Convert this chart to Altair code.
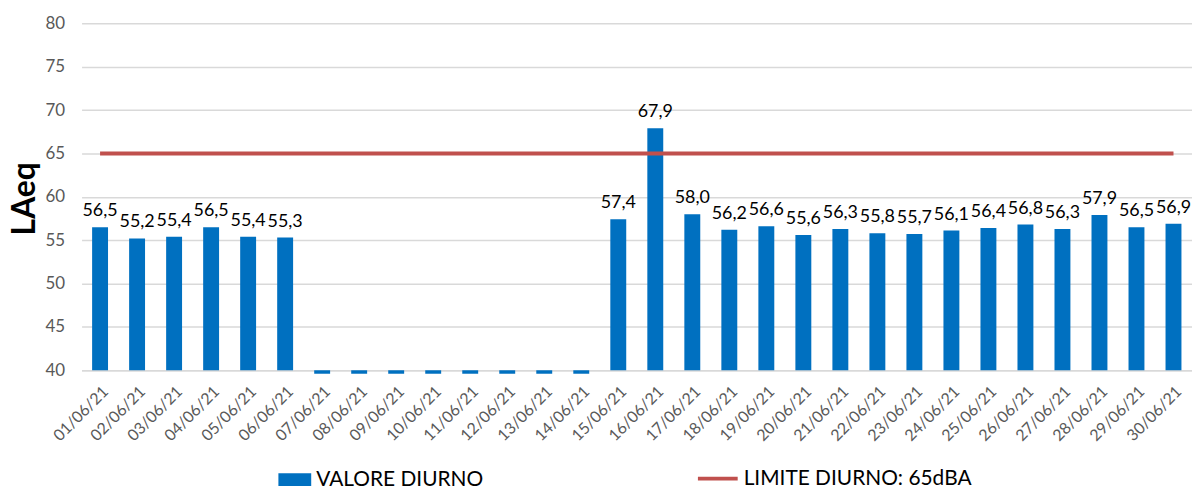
import altair as alt
import pandas as pd

FONT = "Lato"

dates = ["01/06/21", "02/06/21", "03/06/21", "04/06/21", "05/06/21", "06/06/21",
         "07/06/21", "08/06/21", "09/06/21", "10/06/21", "11/06/21", "12/06/21",
         "13/06/21", "14/06/21", "15/06/21", "16/06/21", "17/06/21", "18/06/21",
         "19/06/21", "20/06/21", "21/06/21", "22/06/21", "23/06/21", "24/06/21",
         "25/06/21", "26/06/21", "27/06/21", "28/06/21", "29/06/21", "30/06/21"]
# 07/06 - 14/06: bars just below the axis minimum (no valid measure)
valore = [56.5, 55.2, 55.4, 56.5, 55.4, 55.3,
          39.6, 39.6, 39.6, 39.6, 39.6, 39.6, 39.6, 39.6,
          57.4, 67.9, 58.0, 56.2, 56.6, 55.6, 56.3, 55.8, 55.7, 56.1,
          56.4, 56.8, 56.3, 57.9, 56.5, 56.9]
limite = [65] * 30
y_ticks = [40, 45, 50, 55, 60, 65, 70, 75, 80]
y_min = 40

s_bar = "VALORE DIURNO"
s_line = "LIMITE DIURNO: 65dBA"

df = pd.DataFrame({"data": dates, "valore": valore, "limite": limite})
df["label"] = [f"{v:.1f}".replace(".", ",") for v in valore]
df["s1"] = s_bar
df["s2"] = s_line

x = alt.X("data:N", sort=dates, title=None,
          scale=alt.Scale(paddingInner=0.57, paddingOuter=0.285),
          axis=alt.Axis(labelAngle=-45, labelFontSize=16, labelColor="#595959",
                        labelFont=FONT, ticks=False, domainColor="#D9D9D9",
                        domainWidth=1.5, labelPadding=13, grid=False))

yscale = alt.Scale(domain=[40, 80], zero=False, nice=False)

bars = alt.Chart(df).mark_bar().encode(
    x=x,
    y=alt.Y("valore:Q", scale=yscale,
            axis=alt.Axis(values=y_ticks, title="LAeq", domain=False, ticks=False,
                          gridColor="#D9D9D9", gridWidth=1.5,
                          labelFont=FONT, labelFontSize=17, labelColor="#595959",
                          labelPadding=17,
                          titleFont=FONT, titleFontSize=32, titleFontWeight="bold",
                          titleColor="black", titleX=-57, titleY=176,
                          titleAlign="center", titleBaseline="middle", titleAngle=-90)),
    y2=alt.Y2(datum=y_min),
    fill=alt.Fill("s1:N", scale=alt.Scale(domain=[s_bar], range=["#0070C0"]),
                  legend=alt.Legend(title=None, orient="none", legendX=198, legendY=443,
                                    symbolType="M-1,-0.42H1V0.42H-1Z", symbolSize=1089,
                                    symbolStrokeWidth=0, labelFont=FONT, labelFontSize=21,
                                    labelColor="black", labelOffset=5, padding=0,
                                    labelLimit=400)),
)

line = alt.Chart(df).mark_line(strokeWidth=4).encode(
    x=x,
    y=alt.Y("limite:Q", scale=yscale),
    stroke=alt.Stroke("s2:N", scale=alt.Scale(domain=[s_line], range=["#C0504D"]),
                      legend=alt.Legend(title=None, orient="none", legendX=618, legendY=436,
                                        symbolType="stroke", symbolSize=1600,
                                        symbolStrokeWidth=4, labelFont=FONT,
                                        labelFontSize=21, labelColor="black",
                                        labelOffset=4, padding=0, labelLimit=400)),
)

text = alt.Chart(df).transform_filter("datum.valore >= 40").mark_text(
    dy=-7, baseline="bottom", fontSize=18, font=FONT, color="black"
).encode(x=x, y=alt.Y("valore:Q", scale=yscale), text="label:N")

chart = alt.layer(bars, line, text).resolve_legend(fill="independent", stroke="independent").properties(
    width=1117, height=349,
    autosize=alt.AutoSizeParams(type="none"),
    padding={"left": 74, "top": 14, "right": 0, "bottom": 115},
).configure_view(stroke=None)

chart.save("out.html", embed_options={"renderer": "svg", "actions": False})
